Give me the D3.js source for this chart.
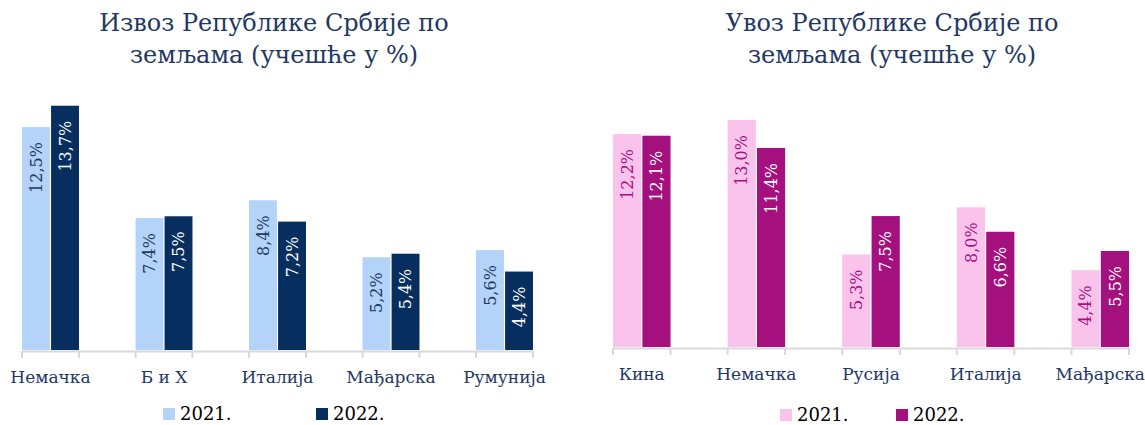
<!DOCTYPE html>
<html>
<head>
<meta charset="utf-8">
<script src="https://cdn.jsdelivr.net/npm/d3@7"></script>
<style>
	body { margin: 0; background: #fff; }
	svg { display: block; font-family: 'DejaVu Serif', serif; }
</style>
</head>
<body>
<div id="chart"></div>
<script>
// izvoz (export) data
var exportCats = ['Немачка', 'Б и Х', 'Италија', 'Мађарска', 'Румунија']
var export2021 = [12.5, 7.4, 8.4, 5.2, 5.6]
var export2022 = [13.7, 7.5, 7.2, 5.4, 4.4]

// uvoz (import) data
var importCats = ['Кина', 'Немачка', 'Русија', 'Италија', 'Мађарска']
var import2021 = [12.2, 13.0, 5.3, 8.0, 4.4]
var import2022 = [12.1, 11.4, 7.5, 6.6, 5.5]

var years = ['2021.', '2022.']

var W = 1145, H = 425

var svg = d3.select('#chart').append('svg')
	.attr('width', W)
	.attr('height', H)

var fmt = function(v) {
	return v.toFixed(1).replace('.', ',') + '%'
}

var drawChart = function(o) {

	var g = svg.append('g')

	// title, two lines
	var title = g.append('text')
		.attr('text-anchor', 'middle')
		.attr('fill', '#1f3864')
		.style('font-size', '24px')
	o.title.forEach(function(line, i) {
		title.append('tspan')
			.attr('x', o.titleX)
			.attr('y', 31 + i * 32)
			.text(line)
	})

	var x0 = d3.scaleBand()
		.domain(o.cats)
		.range(o.xRange)
		.paddingInner(0.498)
		.paddingOuter(0)

	var x1 = d3.scaleBand()
		.domain(years)
		.range([0, x0.bandwidth()])
		.paddingInner(0.04)

	var y = d3.scaleLinear()
		.domain([0, 1])
		.range([o.base, o.base - o.pxPerUnit])

	var rows = o.cats.map(function(c, i) {
		return { cat: c, vals: [o.a[i], o.b[i]] }
	})

	// axis line + ticks at bar group edges
	g.append('line')
		.attr('x1', o.xRange[0]).attr('x2', o.xRange[1])
		.attr('y1', o.base + 1.5).attr('y2', o.base + 1.5)
		.attr('stroke', '#d9d9d9').attr('stroke-width', 2)

	var tickXs = []
	o.cats.forEach(function(c) {
		tickXs.push(x0(c), x0(c) + x0.bandwidth())
	})
	g.selectAll('.tk').data(tickXs).enter().append('line')
		.attr('x1', function(d) { return d }).attr('x2', function(d) { return d })
		.attr('y1', o.base + 1).attr('y2', o.base + 8)
		.attr('stroke', '#d9d9d9').attr('stroke-width', 2)

	var groups = g.selectAll('.grp')
		.data(rows)
		.enter()
		.append('g')
		.attr('transform', function(d) { return 'translate(' + x0(d.cat) + ',0)' })

	groups.each(function(d) {
		var _this = d3.select(this)
		d.vals.forEach(function(v, j) {
			var bx = x1(years[j])
			_this.append('rect')
				.attr('x', bx)
				.attr('y', y(v))
				.attr('width', x1.bandwidth())
				.attr('height', y(0) - y(v))
				.attr('fill', o.colors[j])
			var cx = bx + x1.bandwidth() / 2
			var ty = y(v) + 15
			_this.append('text')
				.attr('transform', 'translate(' + cx + ',' + ty + ') rotate(-90)')
				.attr('text-anchor', 'end')
				.attr('dy', '0.35em')
				.attr('fill', o.labelColors[j])
				.style('font-size', '16px')
				.text(fmt(v))
		})
	})

	// category labels
	g.selectAll('.cat').data(o.cats).enter().append('text')
		.attr('x', function(d) { return x0(d) + x0.bandwidth() / 2 })
		.attr('y', o.base + 33)
		.attr('text-anchor', 'middle')
		.attr('fill', '#1f3864')
		.style('font-size', '17px')
		.text(function(d) { return d })

	// legend
	var leg = g.selectAll('.leg').data(years).enter().append('g')
		.attr('transform', function(d, i) { return 'translate(' + o.legX[i] + ',' + o.legY + ')' })
	leg.append('rect')
		.attr('x', 0).attr('y', -12)
		.attr('width', 12).attr('height', 12)
		.attr('fill', function(d, i) { return o.colors[i] })
	leg.append('text')
		.attr('x', o.legGap)
		.attr('y', 0)
		.attr('fill', '#000')
		.style('font-size', '18px')
		.text(function(d) { return d })
}

drawChart({
	title: ['Извоз Републике Србије по', 'земљама (учешће у %)'],
	titleX: 274,
	cats: exportCats,
	a: export2021,
	b: export2022,
	xRange: [22, 533],
	base: 350,
	pxPerUnit: 17.83,
	colors: ['#b4d3f8', '#062e5f'],
	labelColors: ['#1f3864', '#ffffff'],
	legX: [163, 316],
	legY: 420,
	legGap: 17
})

drawChart({
	title: ['Увоз Републике Србије по', 'земљама (учешће у %)'],
	titleX: 892,
	cats: importCats,
	a: import2021,
	b: import2022,
	xRange: [613, 1129],
	base: 347,
	pxPerUnit: 17.46,
	colors: ['#f9c3ec', '#a5107f'],
	labelColors: ['#a5107f', '#ffffff'],
	legX: [780, 896],
	legY: 421,
	legGap: 17
})
</script>
</body>
</html>
